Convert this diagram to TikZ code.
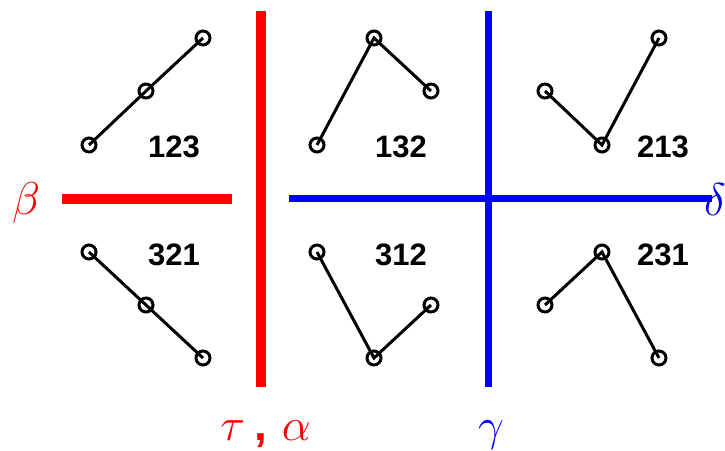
\RequirePackage{fix-cm}
\documentclass[tikz,border=0pt]{standalone}
\usepackage{fontspec}
\setmainfont{Liberation Sans}
\begin{document}
\begin{tikzpicture}[x=1pt,y=-1pt,
  pt/.style={circle,draw,line width=3pt,minimum size=14pt,inner sep=0pt},
  seg/.style={line width=3pt},
  perm/.style={font=\fontsize{31}{31}\selectfont\bfseries,anchor=base,inner sep=0pt},
  redbar/.style={red,line width=10pt},
  bluebar/.style={blue,line width=7pt},
  greek/.style={font=\fontsize{46}{46}\selectfont,anchor=base,inner sep=0pt}]
\useasboundingbox (0,0) rectangle (725,450);
% bars
\coordinate (rvt) at (261,11);
\coordinate (rvb) at (261,387);
\coordinate (rhl) at (62,199);
\coordinate (rhr) at (232,199);
\coordinate (bvt) at (488,11);
\coordinate (bvb) at (488,387);
\coordinate (bhl) at (289,198.5);
\coordinate (bhr) at (712,198.5);
\draw[redbar] (rvt) -- (rvb);
\draw[redbar] (rhl) -- (rhr);
\draw[bluebar] (bvt) -- (bvb);
\draw[bluebar] (bhl) -- (bhr);
% panel 123
\node[pt] (a1) at (89,145) {};
\node[pt] (a2) at (146,91) {};
\node[pt] (a3) at (203,38) {};
\draw[seg] (a1.center) -- (a2.center) -- (a3.center);
\node[perm] (la) at (174,157) {123};
% panel 132
\node[pt] (b1) at (317,145) {};
\node[pt] (b2) at (374,38) {};
\node[pt] (b3) at (431,91) {};
\draw[seg] (b1.center) -- (b2.center) -- (b3.center);
\node[perm] (lb) at (401,157) {132};
% panel 213
\node[pt] (c1) at (545,91) {};
\node[pt] (c2) at (602,145) {};
\node[pt] (c3) at (659,38) {};
\draw[seg] (c1.center) -- (c2.center) -- (c3.center);
\node[perm] (lc) at (663,157) {213};
% panel 321
\node[pt] (d1) at (89,252) {};
\node[pt] (d2) at (146,305) {};
\node[pt] (d3) at (203,358) {};
\draw[seg] (d1.center) -- (d2.center) -- (d3.center);
\node[perm] (ld) at (174,265) {321};
% panel 312
\node[pt] (e1) at (317,252) {};
\node[pt] (e2) at (374,358) {};
\node[pt] (e3) at (431,305) {};
\draw[seg] (e1.center) -- (e2.center) -- (e3.center);
\node[perm] (le) at (401,265) {312};
% panel 231
\node[pt] (f1) at (545,305) {};
\node[pt] (f2) at (602,252) {};
\node[pt] (f3) at (659,358) {};
\draw[seg] (f1.center) -- (f2.center) -- (f3.center);
\node[perm] (lf) at (663,265) {231};
% greek labels
\node[greek,red] (beta) at (26,214) {$\beta$};
\node[greek,blue,anchor=base west] (delta) at (704,215) {$\delta$};
\node[greek,red] (taualpha) at (265.5,440) {$\tau$\hspace{10pt}\textbf{,}\hspace{14pt}$\alpha$};
\node[greek,blue] (gamma) at (491,440) {$\gamma$};
\end{tikzpicture}
\end{document}
